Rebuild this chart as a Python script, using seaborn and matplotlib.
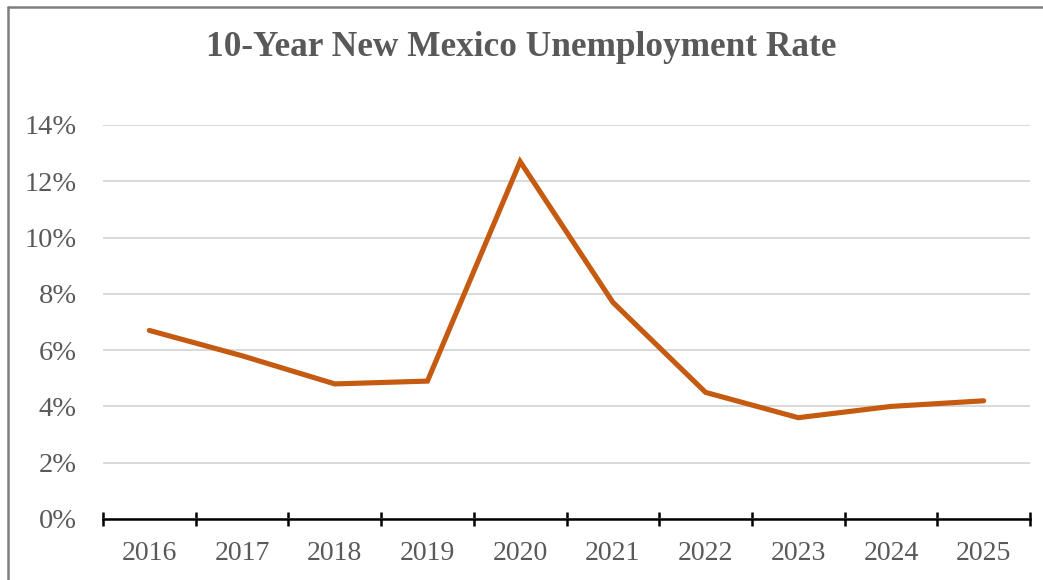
import matplotlib
matplotlib.use("Agg")
import matplotlib.pyplot as plt
from matplotlib.lines import Line2D
from matplotlib.ticker import FixedLocator, FuncFormatter
import seaborn as sns
import pandas as pd

# Annual unemployment rate, New Mexico (%)
years = ["2016", "2017", "2018", "2019", "2020", "2021", "2022", "2023", "2024", "2025"]
rates = [6.7, 5.8, 4.8, 4.9, 12.7, 7.7, 4.5, 3.6, 4.0, 4.2]
y_ticks = [0, 2, 4, 6, 8, 10, 12, 14]

df = pd.DataFrame({"year": years, "rate": rates})

sns.set_theme(style="white")
plt.rcParams["font.family"] = ["Liberation Serif", "DejaVu Serif"]

W, H = 1043, 580
fig = plt.figure(figsize=(W / 100, H / 100), dpi=100)
ax = fig.add_axes([103 / W, 1 - 519 / H, (1030 - 103) / W, (519 - 125) / H])

text_grey = "#595959"
sns.lineplot(data=df, x="year", y="rate", ax=ax, color="#C55A11",
             linewidth=3.7, sort=False, solid_capstyle="round", solid_joinstyle="miter")

ax.set_ylim(0, 14)
ax.set_xlim(-0.5, len(years) - 0.5)
ax.set_yticks(y_ticks)
ax.yaxis.set_major_formatter(FuncFormatter(lambda v, _: f"{v:.0f}%"))
ax.yaxis.grid(True, color="#D9D9D9", linewidth=1.4)
ax.set_axisbelow(True)

# Category boundaries carry the tick marks; labels sit at the category centres
n = len(years)
ax.xaxis.set_major_locator(FixedLocator([i - 0.5 for i in range(n + 1)]))
ax.xaxis.set_minor_locator(FixedLocator(list(range(n))))
ax.set_xticklabels([], minor=False)
ax.set_xticklabels(years, minor=True)
ax.tick_params(axis="x", which="major", direction="inout", length=10, width=1.8,
               color="black", bottom=True)
ax.tick_params(axis="x", which="minor", length=0, pad=16, labelsize=20,
               labelcolor=text_grey, bottom=True)
ax.tick_params(axis="y", length=0, pad=19, labelsize=20.5, labelcolor=text_grey)
ax.set_xlabel("")
ax.set_ylabel("")

for side in ["top", "right", "left"]:
    ax.spines[side].set_visible(False)
ax.spines["bottom"].set_color("black")
ax.spines["bottom"].set_linewidth(1.8)
ax.spines["bottom"].set_zorder(5)

fig.text(0.5, 1 - 47 / H, "10-Year New Mexico Unemployment Rate", ha="center", va="center",
         fontsize=25.4, fontweight="bold", color=text_grey)

# Chart-area frame (left and top edges)
frame_kw = dict(color="#7F7F7F", linewidth=1.8, transform=fig.transFigure)
fig.add_artist(Line2D([7.5 / W, 7.5 / W], [0, 1 - 6.5 / H], **frame_kw))
fig.add_artist(Line2D([7.5 / W, 1], [1 - 6.5 / H, 1 - 6.5 / H], **frame_kw))

fig.savefig("out.png", dpi=100, facecolor="white")
